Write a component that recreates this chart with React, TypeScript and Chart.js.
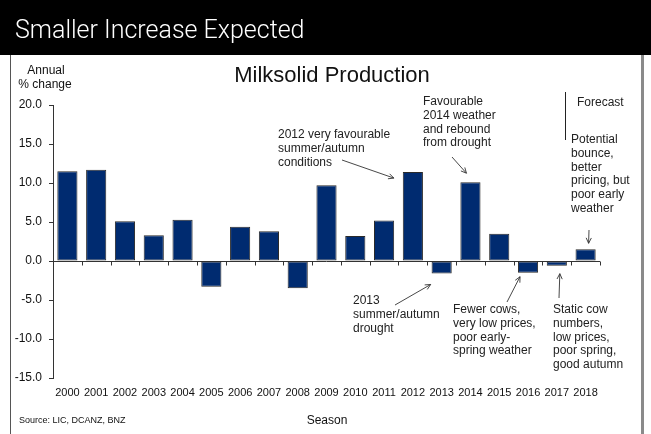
import React, { useEffect, useRef } from 'react';
import { Chart, registerables } from 'chart.js';

Chart.register(...registerables);

// ---- Data ----
const seasons = ['2000', '2001', '2002', '2003', '2004', '2005', '2006', '2007', '2008', '2009', '2010', '2011', '2012', '2013', '2014', '2015', '2016', '2017', '2018'];
const milksolidChange = [11.5, 11.7, 5.1, 3.3, 5.3, -3.3, 4.4, 3.8, -3.5, 9.7, 3.2, 5.2, 11.4, -1.6, 10.1, 3.5, -1.5, -0.6, 1.5];
const yTickValues = [-15, -10, -5, 0, 5, 10, 15, 20];

const headerTitle = 'Smaller Increase Expected';
const chartTitle = 'Milksolid Production';
const yAxisTitle = ['Annual', '% change'];
const xAxisTitle = 'Season';
const sourceText = 'Source: LIC, DCANZ, BNZ';
const forecastLabel = 'Forecast';

type Note = {
  lines: string[];
  x: number;
  y: number;
  from: [number, number];
  tip: { i: number; v: number; dx: number; dy: number };
};

const notes: Note[] = [
  { lines: ['2012 very favourable', 'summer/autumn', 'conditions'], x: 278, y: 135, from: [342, 160], tip: { i: 12, v: 11.4, dx: -19, dy: 6 } },
  { lines: ['Favourable', '2014 weather', 'and rebound', 'from drought'], x: 423, y: 102, from: [452, 157], tip: { i: 14, v: 10.1, dx: -4, dy: -9 } },
  { lines: ['Potential', 'bounce,', 'better', 'pricing, but', 'poor early', 'weather'], x: 571, y: 140, from: [589, 230], tip: { i: 18, v: 1.5, dx: 3, dy: -6 } },
  { lines: ['2013', 'summer/autumn', 'drought'], x: 353, y: 301, from: [395, 305], tip: { i: 13, v: -1.6, dx: -11, dy: 11 } },
  { lines: ['Fewer cows,', 'very low prices,', 'poor early-', 'spring weather'], x: 453, y: 310, from: [507, 302], tip: { i: 16, v: -1.5, dx: -8, dy: 4 } },
  { lines: ['Static cow', 'numbers,', 'low prices,', 'poor spring,', 'good autumn'], x: 553, y: 310, from: [559, 298], tip: { i: 17, v: -0.6, dx: 3, dy: 8 } },
];

const FONT = '"Liberation Sans", Arial, Helvetica, sans-serif';

function arrow(ctx: CanvasRenderingContext2D, x1: number, y1: number, x2: number, y2: number) {
  const ang = Math.atan2(y2 - y1, x2 - x1);
  const L = 6;
  ctx.beginPath();
  ctx.moveTo(x1, y1);
  ctx.lineTo(x2, y2);
  ctx.moveTo(x2 - L * Math.cos(ang - 0.45), y2 - L * Math.sin(ang - 0.45));
  ctx.lineTo(x2, y2);
  ctx.lineTo(x2 - L * Math.cos(ang + 0.45), y2 - L * Math.sin(ang + 0.45));
  ctx.stroke();
}

const decorPlugin = {
  id: 'decor',
  beforeDatasetsDraw(chart: any) {
    const ctx: CanvasRenderingContext2D = chart.ctx;
    const xs = chart.scales.x;
    const ys = chart.scales.y;
    const y0 = Math.round(ys.getPixelForValue(0)) + 0.5;
    ctx.save();
    ctx.strokeStyle = '#333';
    ctx.lineWidth = 1;
    ctx.beginPath();
    ctx.moveTo(chart.chartArea.left, y0);
    ctx.lineTo(chart.chartArea.right, y0);
    for (let i = 1; i <= seasons.length; i++) {
      const bx = Math.round((xs.getPixelForValue(i - 1) + xs.getPixelForValue(Math.min(i, seasons.length - 1))) / 2);
      const px = i === seasons.length ? Math.round(chart.chartArea.right) : bx;
      ctx.moveTo(px + 0.5, y0);
      ctx.lineTo(px + 0.5, y0 + 4);
    }
    ctx.stroke();
    ctx.restore();
  },
  afterDraw(chart: any) {
    const ctx: CanvasRenderingContext2D = chart.ctx;
    const W = chart.width;
    const H = chart.height;
    const xs = chart.scales.x;
    const ys = chart.scales.y;
    ctx.save();
    // header band
    ctx.fillStyle = '#000';
    ctx.fillRect(0, 0, W, 55);
    ctx.fillStyle = '#fff';
    ctx.font = '300 25px Roboto, ' + FONT;
    ctx.textAlign = 'left';
    ctx.textBaseline = 'alphabetic';
    ctx.fillText(headerTitle, 15, 38);
    // frame lines
    ctx.fillStyle = '#555';
    ctx.fillRect(10, 55, 1, H - 55);
    ctx.fillStyle = '#8a8a8a';
    ctx.fillRect(641, 55, 3, H - 55);

    // titles
    ctx.fillStyle = '#111';
    ctx.textBaseline = 'middle';
    ctx.textAlign = 'center';
    ctx.font = '22px ' + FONT;
    ctx.fillText(chartTitle, 332, 76);
    ctx.font = '12px ' + FONT;
    ctx.fillText(yAxisTitle[0], 46, 71);
    ctx.fillText(yAxisTitle[1], 45, 85);
    ctx.fillText(xAxisTitle, 327, 421);
    ctx.textAlign = 'left';
    ctx.font = '9px ' + FONT;
    ctx.fillText(sourceText, 19, 421);

    // forecast divider
    ctx.strokeStyle = '#222';
    ctx.lineWidth = 1;
    ctx.beginPath();
    ctx.moveTo(565.5, 92);
    ctx.lineTo(565.5, 140);
    ctx.stroke();
    ctx.font = '12px ' + FONT;
    ctx.fillStyle = '#222';
    ctx.fillText(forecastLabel, 577, 103);

    // annotations
    const lh = 13.7;
    notes.forEach((n) => {
      ctx.fillStyle = '#222';
      ctx.font = '12px ' + FONT;
      ctx.textAlign = 'left';
      ctx.textBaseline = 'middle';
      n.lines.forEach((t, k) => ctx.fillText(t, n.x, n.y + k * lh));
      const tx = xs.getPixelForValue(n.tip.i) + n.tip.dx;
      const ty = ys.getPixelForValue(n.tip.v) + n.tip.dy;
      ctx.strokeStyle = '#333';
      ctx.lineWidth = 0.9;
      arrow(ctx, n.from[0], n.from[1], tx, ty);
    });
    ctx.restore();
  },
};

export default function App() {
  const ref = useRef<HTMLCanvasElement | null>(null);
  useEffect(() => {
    if (!ref.current) return;
    const chart = new Chart(ref.current, {
      type: 'bar',
      data: {
        labels: seasons,
        datasets: [
          {
            data: milksolidChange,
            backgroundColor: '#002B70',
            borderColor: '#2a2a2a',
            borderWidth: 1,
            borderSkipped: false,
            categoryPercentage: 1,
            barPercentage: 0.7,
          },
        ],
      },
      options: {
        responsive: false,
        animation: false,
        devicePixelRatio: 1,
        layout: { padding: { left: 8, right: 51, top: 105, bottom: 26 } },
        plugins: { legend: { display: false }, tooltip: { enabled: false }, title: { display: false } },
        scales: {
          x: {
            type: 'category',
            offset: true,
            grid: { display: false, drawTicks: false },
            border: { display: false },
            ticks: { color: '#111', font: { family: FONT, size: 11 }, padding: 8, maxRotation: 0, autoSkip: false },
            afterFit: (s: any) => { s.height = 30; },
          },
          y: {
            min: -15,
            max: 20,
            afterBuildTicks: (s: any) => { s.ticks = yTickValues.map((v) => ({ value: v })); },
            grid: { display: true, drawOnChartArea: false, drawTicks: true, tickLength: 4, color: '#333' },
            border: { display: true, color: '#333' },
            ticks: { color: '#111', font: { family: FONT, size: 12 }, padding: 7, callback: (v: any) => Number(v).toFixed(1) },
            afterFit: (s: any) => { s.width = 45; },
          },
        },
      },
      plugins: [decorPlugin],
    });
    return () => chart.destroy();
  }, []);
  return (
    <div style={{ position: 'absolute', left: 0, top: 0, width: 651, height: 434, background: '#fff' }}>
      <canvas ref={ref} width={651} height={434} />
    </div>
  );
}
